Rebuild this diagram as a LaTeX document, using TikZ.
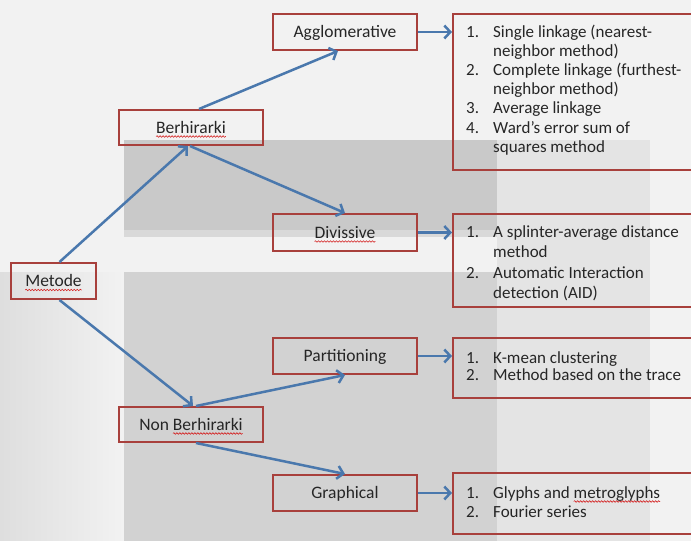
\documentclass[tikz,border=0pt]{standalone}
\usepackage{fontspec}
\setmainfont{Carlito}
\usetikzlibrary{arrows.meta,decorations.pathmorphing}
\definecolor{boxred}{HTML}{A8403C}
\definecolor{arrowblue}{HTML}{4A78AD}
\definecolor{txt}{HTML}{262626}
\definecolor{bgbase}{HTML}{F2F2F2}
\definecolor{bgband}{HTML}{C9C9C9}
\definecolor{bgstrip}{HTML}{D9D9D9}
\definecolor{bglow}{HTML}{D2D2D2}
\definecolor{bgright}{HTML}{E4E4E4}
\definecolor{bgleft}{HTML}{DEDEDE}
\definecolor{waveRed}{HTML}{D42020}
\newdimen\wavewd
\newcommand\redwave[1]{\setbox0\hbox{#1}\global\wavewd=\wd0\rlap{\tikz[baseline=0pt,overlay]\draw[waveRed, line width=0.6pt, decorate, decoration={snake, amplitude=0.8pt, segment length=3pt}] (0pt,-3.5pt) -- (\wavewd,-3.5pt);}\box0}
\begin{document}
\begin{tikzpicture}[x=1pt,y=-1pt,
  box/.style={draw=boxred, line width=2pt, minimum width=144pt, minimum height=36pt,
    inner sep=0pt, text height=13pt, text depth=2pt, text=txt,
    font=\fontsize{17.5}{21}\selectfont},
  listbox/.style={draw=boxred, line width=2pt, inner sep=0pt, anchor=north west},
  listtext/.style={anchor=base west, inner sep=0pt, text=txt},
  conn/.style={draw=arrowblue, line width=2.5pt, -{Straight Barb[length=6pt,width=13pt]}}]
\clip (0,0) rectangle (691,541);
% background shading
\fill[bgbase] (0,0) rectangle (691,541);
\shade[left color=bgleft, right color=bgbase] (0,272) rectangle (124,541);
\fill[bgright] (497,140) rectangle (650,541);
\fill[bgband] (124,140) rectangle (497,230);
\fill[bgstrip] (124,230) rectangle (497,237);
\fill[bglow] (124,272) rectangle (497,541);
% method boxes
\node[box, minimum width=85pt] (metode) at (53.5,281) {\redwave{Metode}};
\node[box, minimum height=35pt] (berh) at (191,127.5) {\redwave{Berhirarki}};
\node[box] (agg) at (345,32) {Agglomerative};
\node[box, minimum height=37pt] (div) at (345,232.5) {\redwave{Divissive}};
\node[box] (part) at (345,356) {Partitioning};
\node[box, minimum height=35pt] (nonb) at (191,424.5) {Non \redwave{Berhirarki}};
\node[box] (graph) at (345,493) {Graphical};
% list boxes
\node[listbox, minimum width=260pt, minimum height=156pt] (agglist) at (452,13) {};
\node[listbox, minimum width=260pt, minimum height=93pt] (divlist) at (452,213) {};
\node[listbox, minimum width=260pt, minimum height=60pt] (partlist) at (452,337) {};
\node[listbox, minimum width=260pt, minimum height=61pt] (graphlist) at (452,472) {};
% list texts
\node[listtext] (aggtext) at (466,37) {\parbox[t]{240pt}{\fontsize{17}{19.2}\selectfont\raggedright
\makebox[27pt][l]{1.}Single linkage (nearest-\\
\hspace*{27pt}neighbor method)\\
\makebox[27pt][l]{2.}Complete linkage (furthest-\\
\hspace*{27pt}neighbor method)\\
\makebox[27pt][l]{3.}Average linkage\\
\makebox[27pt][l]{4.}Ward's error sum of\\
\hspace*{27pt}squares method}};
\node[listtext] (divtext) at (466,237) {\parbox[t]{240pt}{\fontsize{17}{20.5}\selectfont\raggedright
\makebox[27pt][l]{1.}A splinter-average distance\\
\hspace*{27pt}method\\
\makebox[27pt][l]{2.}Automatic Interaction\\
\hspace*{27pt}detection (AID)}};
\node[listtext] (parttext) at (466,363) {\parbox[t]{240pt}{\fontsize{17}{17.5}\selectfont\raggedright
\makebox[27pt][l]{1.}K-mean clustering\\
\makebox[27pt][l]{2.}Method based on the trace}};
\node[listtext] (graphtext) at (466,498) {\parbox[t]{240pt}{\fontsize{17}{19}\selectfont\raggedright
\makebox[27pt][l]{1.}Glyphs and \redwave{metroglyphs}\\
\makebox[27pt][l]{2.}Fourier series}};
% connectors
\draw[conn] ([xshift=6pt]metode.north) -- ([xshift=-3pt]berh.south);
\draw[conn] ([xshift=6pt]metode.south) -- ([xshift=2pt]nonb.north);
\draw[conn] ([xshift=8pt]berh.north) -- ([xshift=-7pt]agg.south);
\draw[conn] ([xshift=-1pt]berh.south) -- (div.north);
\draw[conn] ([xshift=5pt]nonb.north) -- (part.south);
\draw[conn] ([xshift=5pt]nonb.south) -- (graph.north);
\draw[conn] (agg.east) -- (agg.east -| agglist.west);
\draw[conn] (div.east) -- (div.east -| divlist.west);
\draw[conn] (part.east) -- (part.east -| partlist.west);
\draw[conn] (graph.east) -- (graph.east -| graphlist.west);
\end{tikzpicture}
\end{document}
